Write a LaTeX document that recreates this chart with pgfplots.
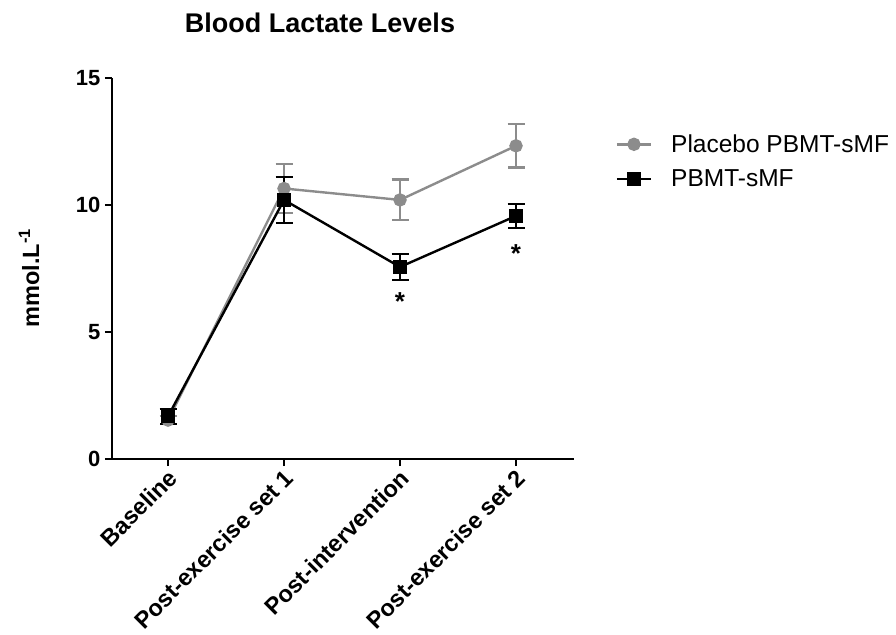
\documentclass[border=0pt]{standalone}
\usepackage{pgfplots}
\pgfplotsset{compat=1.18}
\usepackage{fontspec}
\setmainfont{Liberation Sans}
\definecolor{plgray}{RGB}{140,140,140}
\begin{document}
\begin{tikzpicture}
\useasboundingbox (0,0) rectangle (896pt,634pt);
\begin{axis}[
    at={(112pt,175pt)}, anchor=south west,
    scale only axis,
    width=462pt, height=381pt,
    xmin=-0.483, xmax=3.5,
    ymin=0, ymax=15,
    axis x line=bottom, axis y line=left,
    axis line style={-, line width=2.4pt},
    tick align=outside,
    major tick length=7pt,
    tick style={line width=2.4pt, black},
    xtick={0,1,2,3},
    xticklabels={Baseline, Post-exercise set 1, Post-intervention, Post-exercise set 2},
    ytick={0,5,10,15},
    /pgf/number format/assume math mode=true,
    yticklabel style={font=\bfseries\fontsize{22}{24}\selectfont, xshift=-1pt},
    xticklabel style={font=\bfseries\fontsize{23.5}{26}\selectfont, rotate=45, anchor=east, inner sep=2pt, yshift=-9pt},
    legend style={at={(1.09,0.857)}, anchor=north west, draw=none, fill=none,
        font=\fontsize{24.5}{27}\selectfont, row sep=12pt, column sep=17pt, inner sep=0pt},
    legend cell align=left,
    legend image code/.code={
        \draw[mark repeat=2, mark phase=2] plot coordinates {(0pt,0pt) (17pt,0pt) (34pt,0pt)};
    },
    clip=false,
]
\addplot[plgray, line width=2.4pt, mark=*, mark size=5.5pt,
    error bars/.cd, y dir=both, y explicit,
    error bar style={line width=2.2pt, plgray},
    error mark options={rotate=90, line width=2.2pt, mark size=8.5pt, plgray}]
coordinates {
    (0,1.53) +- (0,0.15)
    (1,10.65) +- (0,0.95)
    (2,10.2) +- (0,0.8)
    (3,12.33) +- (0,0.85)
};
\addlegendentry{Placebo PBMT-sMF}
\addplot[black, line width=2.4pt, mark=square*, mark size=5.5pt,
    error bars/.cd, y dir=both, y explicit,
    error bar style={line width=2.2pt, black},
    error mark options={rotate=90, line width=2.2pt, mark size=8.5pt, black}]
coordinates {
    (0,1.68) +- (0,0.3)
    (1,10.2) +- (0,0.9)
    (2,7.56) +- (0,0.5)
    (3,9.57) +- (0,0.47)
};
\addlegendentry{PBMT-sMF}
\node[font=\bfseries\fontsize{26}{28}\selectfont] at (axis cs:2,6.2) {*};
\node[font=\bfseries\fontsize{26}{28}\selectfont] at (axis cs:3,8.1) {*};
\end{axis}
\node[font=\bfseries\fontsize{27}{30}\selectfont] at (320pt,611pt) {Blood Lactate Levels};
\node[font=\bfseries\fontsize{23.5}{26}\selectfont, rotate=90] at (29pt,356pt) {mmol.L\textsuperscript{-1}};
\end{tikzpicture}
\end{document}
